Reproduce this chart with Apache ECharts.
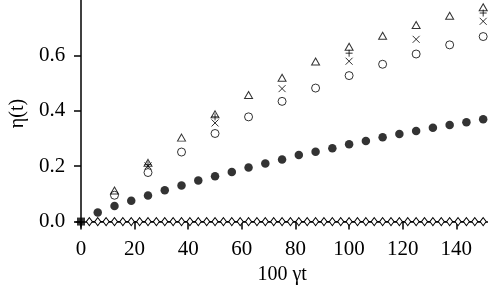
<!DOCTYPE html>
<html><head><meta charset="utf-8">
<script src="https://cdn.jsdelivr.net/npm/echarts@6/dist/echarts.min.js"></script>
<style>html,body{margin:0;padding:0;background:#fff}#c{width:488px;height:290px}</style>
</head><body><div id="c"></div>
<script>
// Data
const xTicks = [0, 20, 40, 60, 80, 100, 120, 140];
const yTicks = [0, 0.2, 0.4, 0.6];

const filledX = [6.25, 12.5, 18.75, 25, 31.25, 37.5, 43.75, 50, 56.25, 62.5, 68.75, 75, 81.25, 87.5, 93.75, 100, 106.25, 112.5, 118.75, 125, 131.25, 137.5, 143.75, 150];
const filledY = [0.033, 0.056, 0.075, 0.094, 0.113, 0.130, 0.148, 0.164, 0.179, 0.195, 0.210, 0.224, 0.240, 0.252, 0.265, 0.279, 0.291, 0.304, 0.316, 0.327, 0.339, 0.349, 0.359, 0.369];

const coarseX = [12.5, 25, 37.5, 50, 62.5, 75, 87.5, 100, 112.5, 125, 137.5, 150];
const openCircleY = [0.095, 0.177, 0.251, 0.318, 0.378, 0.434, 0.482, 0.527, 0.568, 0.605, 0.638, 0.668];
const triangleY = [0.112, 0.212, 0.303, 0.387, 0.457, 0.519, 0.578, 0.631, 0.671, 0.710, 0.743, 0.774];

const crossX = [25, 50, 75, 100, 125, 150];
const crossY = [0.201, 0.356, 0.480, 0.579, 0.658, 0.723];

const plusX = [25, 50, 100, 150];
const plusY = [0.205, 0.378, 0.608, 0.753];

const diamondX = [3.125, 6.25, 9.375, 12.5, 15.625, 18.75, 21.875, 25, 28.125, 31.25, 34.375, 37.5, 40.625, 43.75, 46.875, 50, 53.125, 56.25, 59.375, 62.5, 65.625, 68.75, 71.875, 75, 78.125, 81.25, 84.375, 87.5, 90.625, 93.75, 96.875, 100, 103.125, 106.25, 109.375, 112.5, 115.625, 118.75, 121.875, 125, 128.125, 131.25, 134.375, 137.5, 140.625, 143.75, 146.875, 150];
const diamondY = [0, 0, 0, 0, 0, 0, 0, 0, 0, 0, 0, 0, 0, 0, 0, 0, 0, 0, 0, 0, 0, 0, 0, 0, 0, 0, 0, 0, 0, 0, 0, 0, 0, 0, 0, 0, 0, 0, 0, 0, 0, 0, 0, 0, 0, 0, 0, 0];

const squareX = [0];
const squareY = [0];

const zip = (xs, ys) => xs.map((x, i) => [x, ys[i]]);
const FONT = 'Liberation Serif';
const hollow = {color: 'rgba(0,0,0,0)', borderColor: '#000', borderWidth: 1};

const chart = echarts.init(document.getElementById('c'), null, {renderer: 'canvas'});
chart.setOption({
  animation: false,
  backgroundColor: '#fff',
  grid: {left: 73, right: 0, top: 0, bottom: 60},
  xAxis: {
    type: 'value', min: -1.8, max: 151.8,
    name: '100 γt', nameLocation: 'middle', nameGap: 33,
    nameTextStyle: {fontFamily: FONT, fontSize: 20, color: '#000'},
    axisLine: {show: true, lineStyle: {color: '#000', width: 1.5}},
    axisTick: {show: true, length: 8, lineStyle: {color: '#000', width: 1.5}, customValues: xTicks},
    axisLabel: {fontFamily: FONT, fontSize: 21, color: '#000', margin: 12, customValues: xTicks},
    splitLine: {show: false}
  },
  yAxis: {
    type: 'value', min: -0.02, max: 0.8,
    name: 'η(t)', nameLocation: 'middle', nameGap: 48, nameRotate: 90,
    nameTextStyle: {fontFamily: FONT, fontSize: 20, color: '#000'},
    axisLine: {show: true, lineStyle: {color: '#000', width: 1.5}},
    axisTick: {show: true, length: 7, lineStyle: {color: '#000', width: 1.5}, customValues: yTicks},
    axisLabel: {fontFamily: FONT, fontSize: 21, color: '#000', margin: 11, customValues: yTicks,
      formatter: v => v.toFixed(1)},
    splitLine: {show: false}
  },
  series: [
    {type: 'line', data: zip(diamondX, diamondY), symbol: 'diamond', symbolSize: [6, 8], showAllSymbol: true,
      lineStyle: {color: '#000', width: 1}, itemStyle: {color: '#fff', borderColor: '#000', borderWidth: 1}},
    {type: 'scatter', data: zip(squareX, squareY), symbol: 'rect', symbolSize: 8, itemStyle: {color: '#000'}},
    {type: 'scatter', data: zip(filledX, filledY), symbol: 'circle', symbolSize: 8.5, itemStyle: {color: '#000'}},
    {type: 'scatter', data: zip(coarseX, openCircleY), symbol: 'circle', symbolSize: 8, itemStyle: hollow},
    {type: 'scatter', data: zip(coarseX, triangleY), symbol: 'triangle', symbolSize: [8, 7], itemStyle: hollow},
    {type: 'scatter', data: zip(crossX, crossY), symbol: 'path://M0,0L10,10M10,0L0,10', symbolSize: 7, itemStyle: hollow},
    {type: 'scatter', data: zip(plusX, plusY), symbol: 'path://M5,0L5,10M0,5L10,5', symbolSize: 7, itemStyle: hollow}
  ]
});
</script>
</body></html>
